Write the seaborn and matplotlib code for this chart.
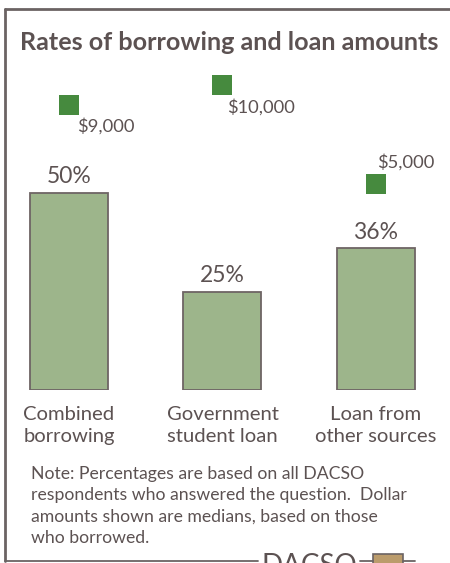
import matplotlib
matplotlib.use('Agg')
import matplotlib.pyplot as plt
import seaborn as sns
import numpy as np
import pandas as pd
from matplotlib.lines import Line2D
from matplotlib.patches import Rectangle

# Dados
categorias = ['Combined\nborrowing', 'Government\nstudent loan', 'Loan from\nother sources']
taxas = [50, 25, 36]
valores = [9000, 10000, 5000]
rotulos_valores = ['$9,000', '$10,000', '$5,000']

titulo = 'Rates of borrowing and loan amounts'
nota = ('Note: Percentages are based on all DACSO\n'
        'respondents who answered the question.  Dollar\n'
        'amounts shown are medians, based on those\n'
        'who borrowed.')

W, H = 450, 563
sns.set_theme(style='white')
plt.rcParams['font.family'] = ['Lato', 'DejaVu Sans']

cor_texto = '#5c5252'
cor_borda = '#6b6363'


def fx(px):
    return px / W


def fy(py):
    return 1 - py / H


fig = plt.figure(figsize=(W / 100, H / 100), dpi=100)

# eixo principal: barras (% de tomadores)
ax = fig.add_axes([fx(10), fy(390), fx(430), 330 / H])
df = pd.DataFrame({'cat': categorias, 'taxa': taxas})
sns.barplot(data=df, x='cat', y='taxa', ax=ax, color='#9db58b', saturation=1,
            width=0.508, edgecolor='#6e6565', linewidth=1.3)
ax.bar_label(ax.containers[0], labels=[f'{t}%' for t in taxas], padding=4,
             fontsize=16.5, color=cor_texto)
ax.set_xlim(-0.384, 2.417)
ax.set_ylim(0, 83.76)
ax.set_xticks(np.arange(len(categorias)), labels=categorias, linespacing=1.38)
ax.set_yticks([])
ax.set_xlabel('')
ax.set_ylabel('')
ax.tick_params(axis='x', length=0, pad=11.5, labelsize=14.6, labelcolor=cor_texto)
sns.despine(ax=ax, left=True, bottom=True)

# eixo secundário: valores medianos em dólar
ax2 = ax.twinx()
sns.scatterplot(x=np.arange(len(valores)), y=valores, ax=ax2, marker='s', s=200,
                color='#468a3e', linewidth=0, legend=False)
ax2.set_ylim(-5404, 11263)
ax.set_xlim(-0.384, 2.417)
deslocamentos = [(8, -21), (5, -22), (1, 22)]
for i, (v, r) in enumerate(zip(valores, rotulos_valores)):
    dx, dy = deslocamentos[i]
    ax2.annotate(r, (i, v), xytext=(dx * 0.72, dy * 0.72), textcoords='offset points',
                 ha='left', va='center', fontsize=13.2, color=cor_texto)
ax2.axis('off')

# título e nota
fig.text(fx(20), fy(43), titulo, ha='left', va='center', fontsize=18.1,
         fontweight='bold', color=cor_texto)
fig.text(fx(31), fy(506), nota, ha='left', va='center', fontsize=12.7,
         color=cor_texto, linespacing=1.4)

# moldura
fig.add_artist(Line2D([fx(5), fx(450)], [fy(9), fy(9)], color=cor_borda, lw=2))
fig.add_artist(Line2D([fx(5), fx(5)], [fy(9), fy(561)], color=cor_borda, lw=2))
for x0, x1 in [(5, 258), (360, 373), (403, 415)]:
    fig.add_artist(Line2D([fx(x0), fx(x1)], [fy(561), fy(561)], color=cor_borda, lw=1.3))
fig.text(fx(262), fy(574), 'DACSO', ha='left', va='baseline', fontsize=20, color=cor_texto)
fig.add_artist(Rectangle((fx(373), fy(566)), fx(30), 12 / H, facecolor='#bb9c6c',
                         edgecolor='#6b6363', lw=1.2, transform=fig.transFigure))

fig.savefig('out.png', dpi=100)
